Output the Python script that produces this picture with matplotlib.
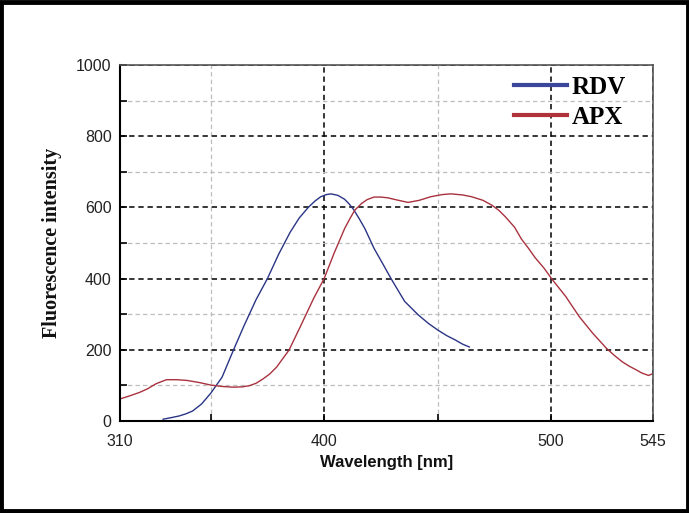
import matplotlib.pyplot as plt
from matplotlib.patches import Rectangle
from matplotlib.ticker import MultipleLocator, FixedLocator

# ------------------ DATA ------------------
rdv_wl = [329, 333, 336, 339, 342, 346, 350, 355, 360, 364.5, 370, 375, 380,
          385, 389, 393, 396, 398.5, 401, 403, 406, 409, 411, 413, 415.5, 418,
          422, 426, 429.5, 435.5, 441.5, 446, 450, 454, 458, 461, 464]
rdv_int = [5, 10, 14, 20, 28, 48, 78, 123, 199, 265, 341, 400, 469,
           530, 570, 600, 618, 630, 636, 638, 634, 623, 610, 594, 568, 540,
           485, 440, 400, 336, 298, 274, 256, 240, 227, 216, 208]

apx_wl = [310, 314, 318.5, 322, 326, 330.5, 335, 339.5, 345, 350, 355, 360,
          364, 367, 370, 373, 376, 379, 384.5, 389.5, 395.5, 400, 404.5, 409,
          411.5, 413.5, 416.5, 419, 422, 425, 428, 432, 437, 442, 447, 452,
          456, 461, 465, 470, 474, 477, 480, 484, 487, 490, 493, 497, 500.5,
          506.5, 512.5, 518.5, 524.5, 528, 531.5, 534.5, 537.5, 540, 543, 545]
apx_int = [62, 70, 80, 90, 105, 116, 116, 114, 108, 101, 97, 95,
           96, 99, 106, 118, 132, 151, 199, 265, 346, 400, 473, 540,
           570, 592, 611, 622, 629, 629, 627, 621, 614, 620, 630, 636,
           638, 635, 630, 620, 606, 592, 573, 544, 511, 486, 459, 429, 398,
           350, 293, 246, 204, 184, 166, 154, 144, 135, 128, 133]

x_ticks = [310, 400, 500, 545]
y_ticks = [0, 200, 400, 600, 800, 1000]
# ------------------------------------------

fig = plt.figure(figsize=(6.89, 5.13), dpi=100)
ax = fig.add_axes([120 / 689, 92 / 513, 533 / 689, 356 / 513])

ax.plot(rdv_wl, rdv_int, color='#2a3585', linewidth=1.0)
ax.plot(apx_wl, apx_int, color='#a8323e', linewidth=1.0)

ax.set_xlim(310, 545)
ax.set_ylim(0, 1000)
ax.xaxis.set_major_locator(FixedLocator(x_ticks))
ax.xaxis.set_minor_locator(FixedLocator([350, 450]))
ax.yaxis.set_major_locator(FixedLocator(y_ticks))
ax.yaxis.set_minor_locator(MultipleLocator(100))

ax.grid(True, which='major', color='black', linestyle=(0, (3.5, 2.5)), linewidth=1.1)
ax.grid(True, which='minor', color='#bdbdbd', linestyle=(0, (3.5, 2.5)), linewidth=0.9)
ax.set_axisbelow(True)

ax.tick_params(which='both', direction='in', length=5, width=1.2, color='black',
               labelsize=11.5, labelcolor='#222222', top=False, right=False)
ax.tick_params(axis='y', pad=6)
ax.tick_params(axis='x', pad=9)
for lab in ax.get_xticklabels() + ax.get_yticklabels():
    lab.set_family('Liberation Sans')

for side in ['left', 'bottom']:
    ax.spines[side].set_linewidth(1.5)
    ax.spines[side].set_color('black')
for side in ['top', 'right']:
    ax.spines[side].set_linewidth(1.2)
    ax.spines[side].set_color('#555555')

ax.set_xlabel('Wavelength [nm]', fontsize=12, fontweight='bold',
              family='Liberation Sans', color='#111111', labelpad=5)
ax.set_ylabel('Fluorescence intensity', fontsize=14.5, fontweight='bold',
              family='Liberation Serif', color='#111111', labelpad=10)

# legend lines drawn thicker than the data lines
h1, = ax.plot([], [], color='#3a479a', linewidth=3)
h2, = ax.plot([], [], color='#b0323a', linewidth=3)
ax.legend([h1, h2], ['RDV', 'APX'], loc='upper right', bbox_to_anchor=(0.973, 1.005),
          frameon=False, handlelength=2.1, handletextpad=0.2, labelspacing=0.3,
          borderaxespad=0.1, prop={'family': 'Liberation Serif', 'weight': 'bold', 'size': 18})

# black frame round the picture
fig.patches.append(Rectangle((0.002, 0.003), 0.996, 0.994, transform=fig.transFigure,
                             fill=False, edgecolor='black', linewidth=3.5))

fig.savefig('out.png', dpi=100, facecolor='white')
